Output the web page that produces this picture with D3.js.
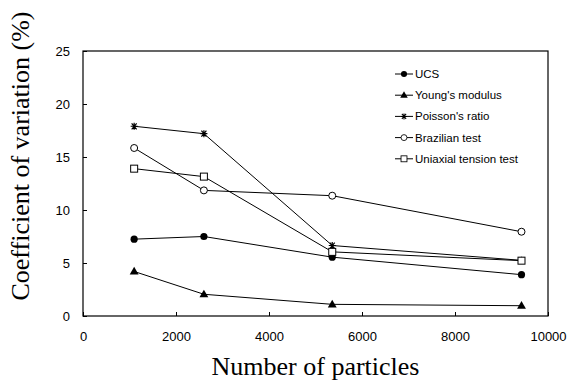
<!DOCTYPE html>
<html>
<head>
<meta charset="utf-8">
<script src="https://cdn.jsdelivr.net/npm/d3@7"></script>
<style>
  body { margin: 0; background: #fff; }
  svg text { fill: #000; }
</style>
</head>
<body>
<div id="chart"></div>
<script>
// data
var particles = [1100, 2600, 5360, 9430];
var ucs = [7.25, 7.5, 5.55, 3.9];
var youngs = [4.2, 2.05, 1.1, 0.97];
var poisson = [17.9, 17.2, 6.65, 5.25];
var brazilian = [15.85, 11.85, 11.35, 7.95];
var uniaxial = [13.9, 13.15, 6.05, 5.22];
var seriesNames = ["UCS", "Young's modulus", "Poisson's ratio", "Brazilian test", "Uniaxial tension test"];
var seriesMarkers = ["dot", "triangle", "star", "circle", "square"];
var xTicks = [0, 2000, 4000, 6000, 8000, 10000];
var yTicks = [0, 5, 10, 15, 20, 25];

var allSeries = [ucs, youngs, poisson, brazilian, uniaxial];

var width = 573, height = 390;
var margin = {left: 83, right: 25, top: 51, bottom: 74};

var svg = d3.select("#chart").append("svg")
    .attr("width", width)
    .attr("height", height);

var x = d3.scaleLinear().domain([0, 10000]).range([margin.left, width - margin.right]);
var y = d3.scaleLinear().domain([0, 25]).range([height - margin.bottom, margin.top]);

// frame
svg.append("rect")
    .attr("x", x(0)).attr("y", y(25))
    .attr("width", x(10000) - x(0)).attr("height", y(0) - y(25))
    .attr("fill", "none").attr("stroke", "#000").attr("stroke-width", 1.2);

// axes, ticks pointing inside
var xAxis = d3.axisBottom(x).tickValues(xTicks).tickFormat(d3.format("d"))
    .tickSizeInner(-4).tickSizeOuter(0).tickPadding(16);
var gx = svg.append("g").attr("transform", "translate(0," + y(0) + ")").call(xAxis);
gx.select(".domain").remove();
gx.selectAll("text").style("font-family", "Liberation Sans, Arial, sans-serif").style("font-size", "13px");

var yAxis = d3.axisLeft(y).tickValues(yTicks).tickFormat(d3.format("d"))
    .tickSizeInner(-4).tickSizeOuter(0).tickPadding(13);
var gy = svg.append("g").attr("transform", "translate(" + x(0) + ",0)").call(yAxis);
gy.select(".domain").remove();
gy.selectAll("text").style("font-family", "Liberation Sans, Arial, sans-serif").style("font-size", "13px");

// titles
svg.append("text")
    .attr("x", (x(0) + x(10000)) / 2).attr("y", 375)
    .attr("text-anchor", "middle")
    .style("font-family", "Liberation Serif, Times New Roman, serif")
    .style("font-size", "26px")
    .text("Number of particles");

svg.append("text")
    .attr("transform", "translate(29,156) rotate(-90)")
    .attr("text-anchor", "middle")
    .style("font-family", "Liberation Serif, Times New Roman, serif")
    .style("font-size", "26px")
    .text("Coefficient of variation (%)");

function drawMarker(g, type) {
  if (type == "dot") {
    g.append("circle").attr("r", 3.6).attr("fill", "#000");
  } else if (type == "circle") {
    g.append("circle").attr("r", 3.5).attr("fill", "#fff").attr("stroke", "#000").attr("stroke-width", 1);
  } else if (type == "triangle") {
    g.append("path").attr("d", d3.symbol().type(d3.symbolTriangle).size(34)).attr("fill", "#000")
        .attr("transform", "translate(0,0.5)");
  } else if (type == "square") {
    g.append("rect").attr("x", -3.5).attr("y", -3.5).attr("width", 7).attr("height", 7)
        .attr("fill", "#fff").attr("stroke", "#000").attr("stroke-width", 1);
  } else if (type == "star") {
    g.append("path").attr("d", "M-3.5,0H3.5M-2.5,-3L2.5,3M-2.5,3L2.5,-3M0,-3.5V3.5")
        .attr("stroke", "#000").attr("stroke-width", 1.2).attr("fill", "none");
  }
}

var line = d3.line()
    .x(function(d, i) { return x(particles[i]); })
    .y(function(d) { return y(d); });

allSeries.forEach(function(vals, s) {
  svg.append("path").datum(vals)
      .attr("d", line)
      .attr("fill", "none").attr("stroke", "#000").attr("stroke-width", 1);
});

allSeries.forEach(function(vals, s) {
  vals.forEach(function(v, i) {
    var g = svg.append("g").attr("transform", "translate(" + x(particles[i]) + "," + y(v) + ")");
    drawMarker(g, seriesMarkers[s]);
  });
});

// legend
var legend = svg.append("g").attr("transform", "translate(395,74)");
seriesNames.forEach(function(name, i) {
  var row = legend.append("g").attr("transform", "translate(0," + (i * 21.2) + ")");
  row.append("line").attr("x1", 0).attr("x2", 18).attr("y1", 0).attr("y2", 0)
      .attr("stroke", "#000").attr("stroke-width", 1);
  var m = row.append("g").attr("transform", "translate(9,0) scale(0.85)");
  drawMarker(m, seriesMarkers[i]);
  row.append("text").attr("x", 20).attr("y", 4)
      .style("font-family", "Liberation Sans, Arial, sans-serif")
      .style("font-size", "11.5px")
      .text(name);
});
</script>
</body>
</html>
